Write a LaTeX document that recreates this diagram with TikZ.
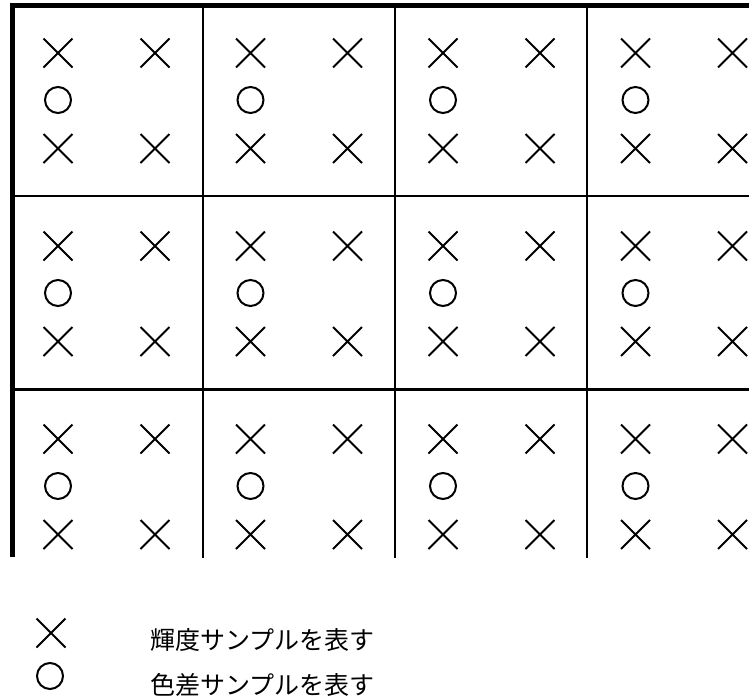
\documentclass[tikz,border=0pt]{standalone}
\usepackage{fontspec}
\newfontfamily\jpfont{Noto Sans CJK JP}
\usetikzlibrary{shapes.misc}
\tikzset{
  thickline/.style={line width=5pt},
  gridline/.style={line width=2.5pt},
  xm/.style={cross out, draw, line width=2pt, minimum size=27pt, inner sep=0pt},
  om/.style={circle, draw, line width=2pt, minimum size=26pt, inner sep=0pt},
  legtext/.style={anchor=west, inner sep=0pt, font=\jpfont\fontsize{25}{25}\selectfont}
}
\begin{document}
\begin{tikzpicture}[x=1pt,y=-1pt]
\useasboundingbox (0,0) rectangle (749,699);
% grid
\foreach \c in {0,1,2} {
  \draw[gridline] (203+192*\c,5) -- (203+192*\c,558);
}
\draw[gridline] (12,196) -- (749,196);
\draw[gridline] (12,389.5) -- (749,389.5);
\draw[thickline] (10,5) -- (749,5);
\draw[thickline] (12,5) -- (12,557);
% marks
\foreach \c in {0,1,2,3} {
  \foreach \r in {0,1,2} {
    \node[xm] (xa-\c-\r) at (58+192.5*\c, 53+193*\r) {};
    \node[xm] (xb-\c-\r) at (155+192.5*\c, 53+193*\r) {};
    \node[om] (o-\c-\r) at (58+192.5*\c, 100+193*\r) {};
    \node[xm] (xc-\c-\r) at (58+192.5*\c, 148.5+193*\r) {};
    \node[xm] (xd-\c-\r) at (155+192.5*\c, 148.5+193*\r) {};
  }
}
% legend
\node[xm] (lx) at (51,633) {};
\node[om] (lo) at (50,676) {};
\node[legtext] (lt1) at (150,640) {輝度サンプルを表す};
\node[legtext] (lt2) at (150,685) {色差サンプルを表す};
\end{tikzpicture}
\end{document}
